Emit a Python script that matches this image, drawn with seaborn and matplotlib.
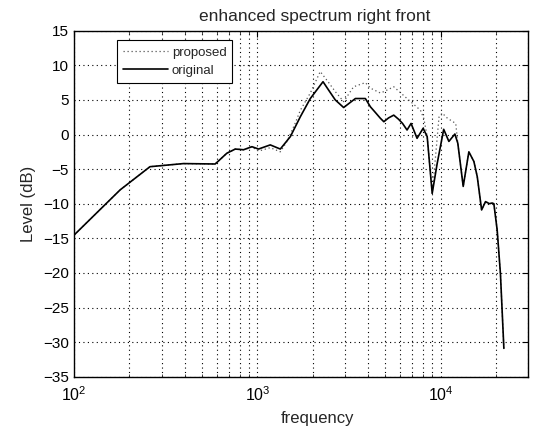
import matplotlib
matplotlib.use("Agg")
import matplotlib.pyplot as plt
import seaborn as sns
import numpy as np
import pandas as pd
from matplotlib.ticker import LogLocator, FixedLocator

# ---- data ----
orig_freq = [100, 178, 259, 395, 588, 681, 757, 840, 933, 1014, 1175, 1333, 1513, 1715,
             1944, 2281, 2450, 2661, 2956, 3200, 3427, 3884, 4140, 4400, 4690, 4900, 5200,
             5550, 5900, 6200, 6560, 6900, 7440, 8030, 8450, 9000, 9580, 10400, 11100,
             11970, 12420, 13290, 14270, 15200, 15860, 16750, 17590, 18500, 19130, 19540,
             20370, 21220, 22160]
orig_level = [-14.5, -8.0, -4.65, -4.2, -4.26, -2.7, -2.1, -2.2, -1.76, -2.1, -1.5, -2.1,
              -0.3, 2.57, 5.2, 7.63, 6.4, 5.0, 3.9, 4.6, 5.2, 5.2, 4.0, 3.2, 2.35, 1.85,
              2.4, 2.8, 2.2, 1.6, 0.65, 1.6, -0.55, 0.9, -0.3, -8.5, -4.2, 0.75, -1.0,
              0.07, -1.27, -7.5, -2.5, -3.9, -6.1, -10.9, -9.7, -10.0, -9.9, -10.0, -13.8,
              -20.1, -30.9]

prop_freq = [100, 178, 259, 395, 588, 681, 757, 840, 933, 1014, 1175, 1333, 1450, 1600,
             1715, 1944, 2203, 2450, 2661, 2956, 3350, 3884, 4140, 4690, 4900, 5550, 6560,
             7770, 8100, 8450, 9000, 9400, 9800, 10200, 10900, 12100, 12420, 13290, 14270,
             15200, 15860, 16750, 17590, 18500, 19130, 19540, 20370, 21220, 22160]
prop_level = [-14.5, -8.0, -4.65, -4.2, -4.26, -2.7, -2.1, -2.2, -1.8, -2.4, -1.9, -2.5,
              -1.0, 1.5, 3.5, 6.0, 9.1, 7.5, 6.2, 4.75, 6.9, 7.5, 6.7, 6.0, 6.2, 6.9, 5.2,
              3.5, 2.3, -0.3, -8.5, -3.0, 2.5, 3.1, 2.35, 1.6, -1.27, -7.5, -2.5, -3.9,
              -6.1, -10.9, -9.7, -10.0, -9.9, -10.0, -13.8, -20.1, -30.9]

y_ticks = [-35, -30, -25, -20, -15, -10, -5, 0, 5, 10, 15]

title_text = "enhanced spectrum right front"
x_label = "frequency"
y_label = "Level (dB)"

# ---- plotting ----
sns.set_style("white")
plt.rcParams['font.family'] = ['Liberation Sans', 'DejaVu Sans']
plt.rcParams['mathtext.fontset'] = 'custom'
plt.rcParams['mathtext.rm'] = 'Liberation Sans'

fig = plt.figure(figsize=(5.34, 4.26), dpi=100)
ax = fig.add_axes([0.1391, 0.1157, 0.8496, 0.8122])

df_prop = pd.DataFrame({"freq": prop_freq, "level": prop_level})
df_orig = pd.DataFrame({"freq": orig_freq, "level": orig_level})

sns.lineplot(data=df_prop, x="freq", y="level", ax=ax, color="#555555",
             linestyle=(0, (1, 2.2)), linewidth=0.9, label="proposed", estimator=None, sort=False)
sns.lineplot(data=df_orig, x="freq", y="level", ax=ax, color="black",
             linewidth=1.2, label="original", estimator=None, sort=False)

ax.set_xscale("log")
ax.set_xlim(100, 30000)
ax.set_ylim(-35, 15)
ax.yaxis.set_major_locator(FixedLocator(y_ticks))
ax.set_yticklabels([str(v).replace('-', '\u2212') if v < 0 else str(v) for v in y_ticks])
ax.xaxis.set_major_locator(LogLocator(base=10, numticks=10))
ax.xaxis.set_minor_locator(LogLocator(base=10, subs=np.arange(2, 10), numticks=20))

ax.grid(True, which="major", axis="both", color="black", linestyle=(0, (1, 3)), linewidth=0.8)
ax.grid(True, which="minor", axis="x", color="black", linestyle=(0, (1, 3)), linewidth=0.8)

for s in ax.spines.values():
    s.set_color("black")
    s.set_linewidth(1.0)

ax.tick_params(axis="both", which="major", direction="in", length=4, width=0.8,
               labelsize=11, pad=4, colors="black", top=True, right=True)
ax.tick_params(axis="x", which="minor", direction="in", length=2, width=0.6,
               top=True, bottom=True)
ax.tick_params(axis="x", which="major", pad=6, labelsize=11.5)

ax.set_title(title_text, fontsize=12.5, pad=7, x=0.53)
ax.set_xlabel(x_label, fontsize=12, labelpad=1)
ax.xaxis.set_label_coords(0.535, -0.1)
ax.set_ylabel(y_label, fontsize=12, labelpad=5)

leg = ax.legend(loc="upper left", bbox_to_anchor=(0.094, 0.972), fontsize=9.5,
                frameon=True, fancybox=False, framealpha=1, edgecolor="black",
                handlelength=3.4, handletextpad=0.3, borderpad=0.45, labelspacing=0.45,
                borderaxespad=0)
leg.get_frame().set_linewidth(0.8)

fig.savefig("out.png", dpi=100)
